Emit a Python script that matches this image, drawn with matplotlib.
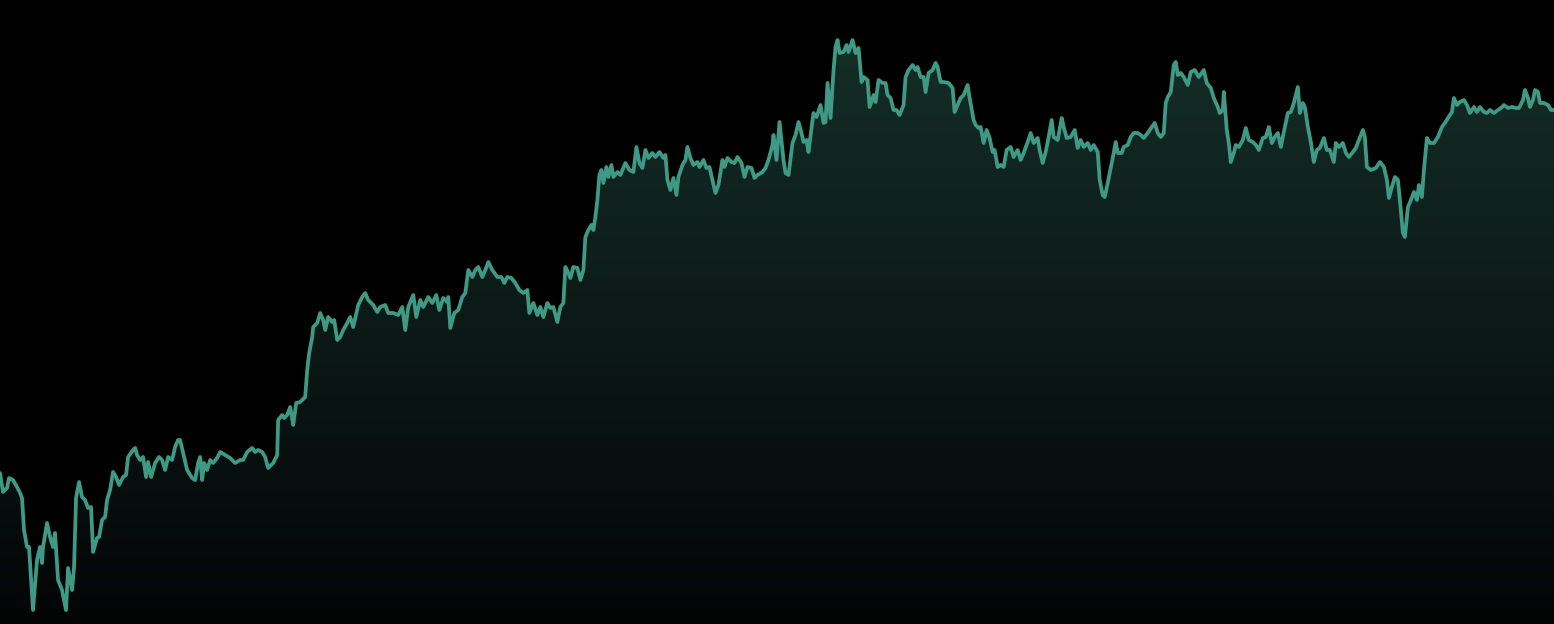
import numpy as np
import matplotlib
matplotlib.use("Agg")
import matplotlib.pyplot as plt
from matplotlib.colors import LinearSegmentedColormap

# time positions (sample index along the x axis)
t = [0, 3, 7, 9, 13, 17, 20, 22, 24, 27, 29, 33, 37, 40, 42, 43, 47, 50, 53, 55,
     58, 62, 66, 68, 72, 74, 76, 79, 82, 85, 88, 91, 93, 97, 99, 102, 105, 107, 110, 113,
     116, 119, 123, 126, 128, 133, 135, 137, 140, 143, 146, 148, 151, 155, 159, 162, 165, 168, 172, 175,
     178, 180, 183, 187, 192, 195, 198, 200, 202, 204, 207, 210, 213, 217, 220, 225, 230, 235, 240, 243,
     247, 252, 255, 258, 262, 265, 268, 273, 277, 278, 282, 284, 287, 290, 293, 296, 300, 305, 307, 309,
     312, 313, 317, 320, 323, 325, 328, 332, 334, 337, 340, 343, 347, 350, 353, 355, 358, 362, 365, 368,
     373, 377, 380, 385, 388, 393, 398, 402, 405, 408, 413, 416, 420, 423, 428, 432, 436, 439, 443, 447,
     448, 450, 454, 458, 462, 465, 468, 472, 475, 478, 482, 485, 488, 492, 497, 501, 504, 507, 511, 515,
     519, 523, 527, 529, 533, 537, 540, 543, 547, 550, 553, 557, 560, 563, 565, 568, 570, 573, 577, 580,
     583, 585, 588, 591, 593, 595, 597, 599, 601, 603, 606, 608, 611, 613, 617, 620, 625, 629, 633, 636,
     639, 642, 645, 648, 652, 655, 659, 663, 665, 667, 670, 673, 676, 678, 682, 685, 687, 690, 693, 697,
     699, 703, 706, 709, 712, 715, 718, 722, 724, 727, 731, 734, 737, 741, 744, 747, 751, 754, 757, 762,
     765, 768, 772, 773, 776, 779, 783, 785, 788, 792, 795, 798, 801, 803, 806, 808, 812, 813, 816, 820,
     823, 825, 827, 830, 833, 835, 837, 839, 843, 846, 848, 852, 855, 858, 861, 863, 867, 869, 873, 875,
     878, 882, 885, 887, 890, 893, 896, 899, 903, 905, 908, 912, 915, 917, 920, 923, 925, 928, 932, 935,
     937, 940, 943, 948, 952, 954, 957, 960, 963, 967, 969, 973, 975, 978, 980, 983, 986, 989, 992, 994,
     997, 1000, 1003, 1006, 1010, 1013, 1017, 1020, 1023, 1027, 1030, 1033, 1037, 1039, 1042, 1045, 1048, 1051, 1053, 1057,
     1061, 1063, 1066, 1070, 1074, 1077, 1080, 1083, 1087, 1090, 1093, 1097, 1099, 1102, 1104, 1107, 1110, 1113, 1115, 1117,
     1121, 1123, 1127, 1130, 1133, 1137, 1140, 1143, 1147, 1151, 1154, 1157, 1160, 1163, 1165, 1167, 1170, 1173, 1175, 1177,
     1180, 1183, 1187, 1190, 1194, 1198, 1203, 1206, 1210, 1213, 1217, 1219, 1222, 1223, 1226, 1228, 1230, 1233, 1235, 1238,
     1242, 1245, 1248, 1252, 1255, 1258, 1262, 1265, 1268, 1271, 1274, 1277, 1280, 1283, 1287, 1290, 1293, 1297, 1299, 1302,
     1304, 1307, 1310, 1313, 1316, 1319, 1323, 1326, 1329, 1333, 1335, 1338, 1342, 1345, 1348, 1352, 1355, 1358, 1362, 1364,
     1366, 1370, 1375, 1379, 1383, 1386, 1388, 1391, 1394, 1397, 1399, 1402, 1404, 1407, 1410, 1413, 1416, 1418, 1421, 1423,
     1426, 1429, 1433, 1437, 1441, 1444, 1447, 1451, 1453, 1456, 1459, 1463, 1466, 1469, 1473, 1476, 1479, 1483, 1486, 1489,
     1493, 1497, 1500, 1503, 1507, 1511, 1515, 1518, 1522, 1524, 1527, 1529, 1532, 1534, 1537, 1539, 1543, 1547, 1550, 1553]

# series values
price = [151, 132, 136, 146, 144, 137, 131, 126, 94, 77, 77, 14, 64, 77, 61, 77, 101, 87, 77, 91,
         44, 34, 14, 56, 34, 57, 126, 142, 127, 124, 116, 117, 72, 86, 87, 104, 107, 124, 134, 152,
         147, 139, 147, 149, 167, 174, 176, 169, 164, 167, 147, 162, 147, 161, 167, 164, 154, 167, 164, 177,
         184, 184, 171, 154, 146, 144, 161, 167, 144, 161, 154, 164, 161, 166, 172, 169, 166, 161, 164, 164,
         172, 176, 172, 174, 172, 167, 156, 161, 169, 204, 209, 206, 209, 217, 199, 221, 222, 227, 254, 271,
         287, 297, 301, 311, 304, 294, 307, 302, 304, 284, 287, 294, 301, 307, 297, 306, 319, 327, 331, 324,
         319, 312, 317, 319, 311, 311, 309, 317, 294, 317, 329, 307, 324, 317, 327, 321, 329, 314, 326, 322,
         327, 296, 311, 314, 327, 331, 354, 347, 354, 357, 347, 354, 362, 354, 347, 347, 341, 347, 346, 341,
         334, 331, 334, 311, 321, 309, 317, 307, 321, 316, 317, 302, 317, 321, 357, 351, 346, 357, 356, 344,
         354, 387, 394, 399, 394, 407, 424, 449, 454, 441, 457, 447, 459, 447, 452, 449, 461, 454, 452, 477,
         461, 456, 474, 466, 471, 467, 472, 466, 469, 444, 434, 446, 429, 447, 459, 464, 477, 466, 459, 462,
         457, 464, 456, 457, 444, 431, 439, 464, 457, 466, 462, 461, 467, 461, 447, 457, 456, 446, 449, 452,
         456, 464, 479, 489, 464, 502, 464, 451, 449, 481, 489, 502, 491, 482, 484, 472, 504, 511, 507, 519,
         501, 502, 541, 506, 554, 577, 584, 571, 572, 579, 572, 584, 571, 576, 542, 547, 544, 517, 529, 522,
         544, 541, 541, 529, 526, 514, 514, 509, 519, 547, 554, 559, 554, 557, 547, 547, 532, 551, 554, 561,
         557, 542, 542, 541, 536, 512, 519, 526, 529, 539, 526, 504, 499, 496, 497, 481, 494, 486, 472, 474,
         457, 459, 457, 474, 477, 467, 474, 464, 471, 482, 491, 481, 486, 474, 461, 472, 487, 504, 487, 484,
         506, 497, 486, 487, 494, 476, 484, 477, 481, 474, 479, 472, 444, 429, 427, 441, 456, 471, 482, 471,
         471, 477, 479, 487, 491, 491, 489, 486, 491, 497, 501, 491, 487, 491, 521, 527, 532, 559, 562, 549,
         551, 547, 539, 552, 554, 547, 554, 541, 536, 526, 517, 511, 514, 532, 494, 481, 462, 471, 479, 477,
         484, 496, 484, 482, 479, 474, 486, 487, 497, 481, 487, 491, 477, 492, 511, 512, 521, 537, 511, 521,
         517, 497, 482, 462, 474, 476, 486, 474, 474, 462, 481, 477, 481, 471, 467, 472, 476, 484, 494, 487,
         457, 454, 456, 462, 457, 444, 426, 437, 447, 444, 424, 391, 387, 417, 424, 432, 424, 439, 427, 454,
         486, 481, 481, 487, 497, 501, 506, 512, 526, 519, 522, 524, 519, 511, 517, 512, 517, 512, 511, 514,
         511, 514, 516, 519, 516, 517, 516, 516, 524, 534, 526, 517, 524, 534, 532, 521, 521, 519, 514, 514]

W, H = 1554, 624
fig = plt.figure(figsize=(W / 100, H / 100), dpi=100, facecolor="black")
ax = fig.add_axes([0, 0, 1, 1])
ax.set_facecolor("black")
ax.set_xlim(0, 1553)
ax.set_ylim(0, 624)
ax.axis("off")

poly = ax.fill_between(t, price, 0, facecolor="none", edgecolor="none")
cmap = LinearSegmentedColormap.from_list("g", ["#030505", "#16302a"])
grad = np.linspace(0, 1, 256).reshape(-1, 1)
im = ax.imshow(grad, cmap=cmap, origin="lower", aspect="auto",
               extent=[0, 1553, 0, 624], zorder=1)
im.set_clip_path(poly.get_paths()[0], transform=ax.transData)

ax.plot(t, price, color="#3f9a85", lw=2.7, solid_joinstyle="round",
        solid_capstyle="round", zorder=2)

fig.savefig("out.png", dpi=100, facecolor="black")
